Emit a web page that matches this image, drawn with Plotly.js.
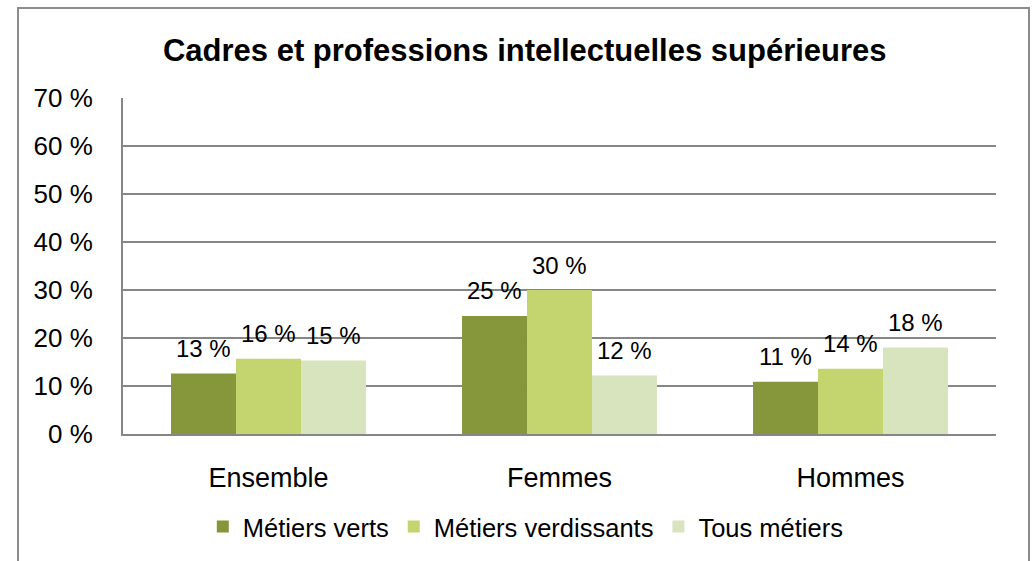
<!DOCTYPE html>
<html>
<head>
<meta charset="utf-8">
<script src="https://cdn.plot.ly/plotly-3.0.1.min.js"></script>
<style>html,body{margin:0;padding:0;background:#fff;}#chart{width:1033px;height:561px;}</style>
</head>
<body>
<div id="chart"></div>
<script>
const categories = ["Ensemble", "Femmes", "Hommes"];
const seriesNames = ["Métiers verts", "Métiers verdissants", "Tous métiers"];
const metiersVerts = [12.6, 24.6, 10.9];
const metiersVerdissants = [15.7, 30.0, 13.6];
const tousMetiers = [15.3, 12.2, 18.0];
const yTickVals = [0, 10, 20, 30, 40, 50, 60, 70];
const colors = ["#86963A", "#C4D46F", "#D8E4BE"];
const series = [metiersVerts, metiersVerdissants, tousMetiers];

const FONT = "Liberation Sans, Arial, sans-serif";
const bargap = 0.33;

const traces = series.map((vals, i) => ({
  type: "bar",
  name: seriesNames[i],
  x: categories,
  y: vals,
  marker: { color: colors[i], line: { width: 0 } },
  hoverinfo: "skip"
}));

const annotations = [];
const bw = (1 - bargap) / series.length;
series.forEach((vals, i) => {
  vals.forEach((v, j) => {
    annotations.push({
      x: j + (i - (series.length - 1) / 2) * bw,
      y: v,
      xref: "x", yref: "y",
      text: Math.round(v) + " %",
      showarrow: false,
      yanchor: "middle",
      yshift: 25,
      font: { family: FONT, size: 24, color: "#000" }
    });
  });
});

const layout = {
  width: 1033, height: 561,
  margin: { l: 123, r: 37, t: 98, b: 127 },
  paper_bgcolor: "#fff", plot_bgcolor: "#fff",
  font: { family: FONT, size: 25, color: "#000" },
  title: {
    text: "<b>Cadres et professions intellectuelles supérieures</b>",
    font: { family: FONT, size: 31, color: "#000" },
    xref: "container", x: 0.508, xanchor: "center",
    yref: "container", y: 1 - 50 / 561, yanchor: "middle"
  },
  barmode: "group",
  bargap: bargap,
  bargroupgap: 0,
  xaxis: {
    type: "category",
    showline: true, linecolor: "#868686", linewidth: 2,
    showgrid: false, ticks: "",
    tickfont: { family: FONT, size: 27, color: "#000" },
    ticklabelstandoff: 19,
    fixedrange: true
  },
  yaxis: {
    range: [0, 70],
    tickvals: yTickVals,
    ticktext: yTickVals.map(v => v + " %"),
    showline: true, linecolor: "#868686", linewidth: 2,
    showgrid: true, gridcolor: "#868686", gridwidth: 2,
    zeroline: false, ticks: "",
    tickfont: { family: FONT, size: 26, color: "#000" },
    ticklabelstandoff: 23,
    fixedrange: true
  },
  legend: {
    orientation: "h",
    xref: "container", x: 0.509, xanchor: "center",
    yref: "container", y: 1 - 527 / 561, yanchor: "middle",
    font: { family: FONT, size: 25.5, color: "#000" },
    entrywidth: 0,
    itemclick: false, itemdoubleclick: false
  },
  showlegend: true,
  annotations: annotations,
  shapes: [{
    type: "rect", xref: "paper", yref: "paper",
    x0: (18 - 123) / 873, x1: (1029 - 123) / 873,
    y0: (434 - 600) / 336, y1: (434 - 8) / 336,
    line: { color: "#8C8C8C", width: 2 },
    fillcolor: "rgba(0,0,0,0)", layer: "below"
  }]
};

Plotly.newPlot("chart", traces, layout, { displayModeBar: false, staticPlot: true });
</script>
</body>
</html>
